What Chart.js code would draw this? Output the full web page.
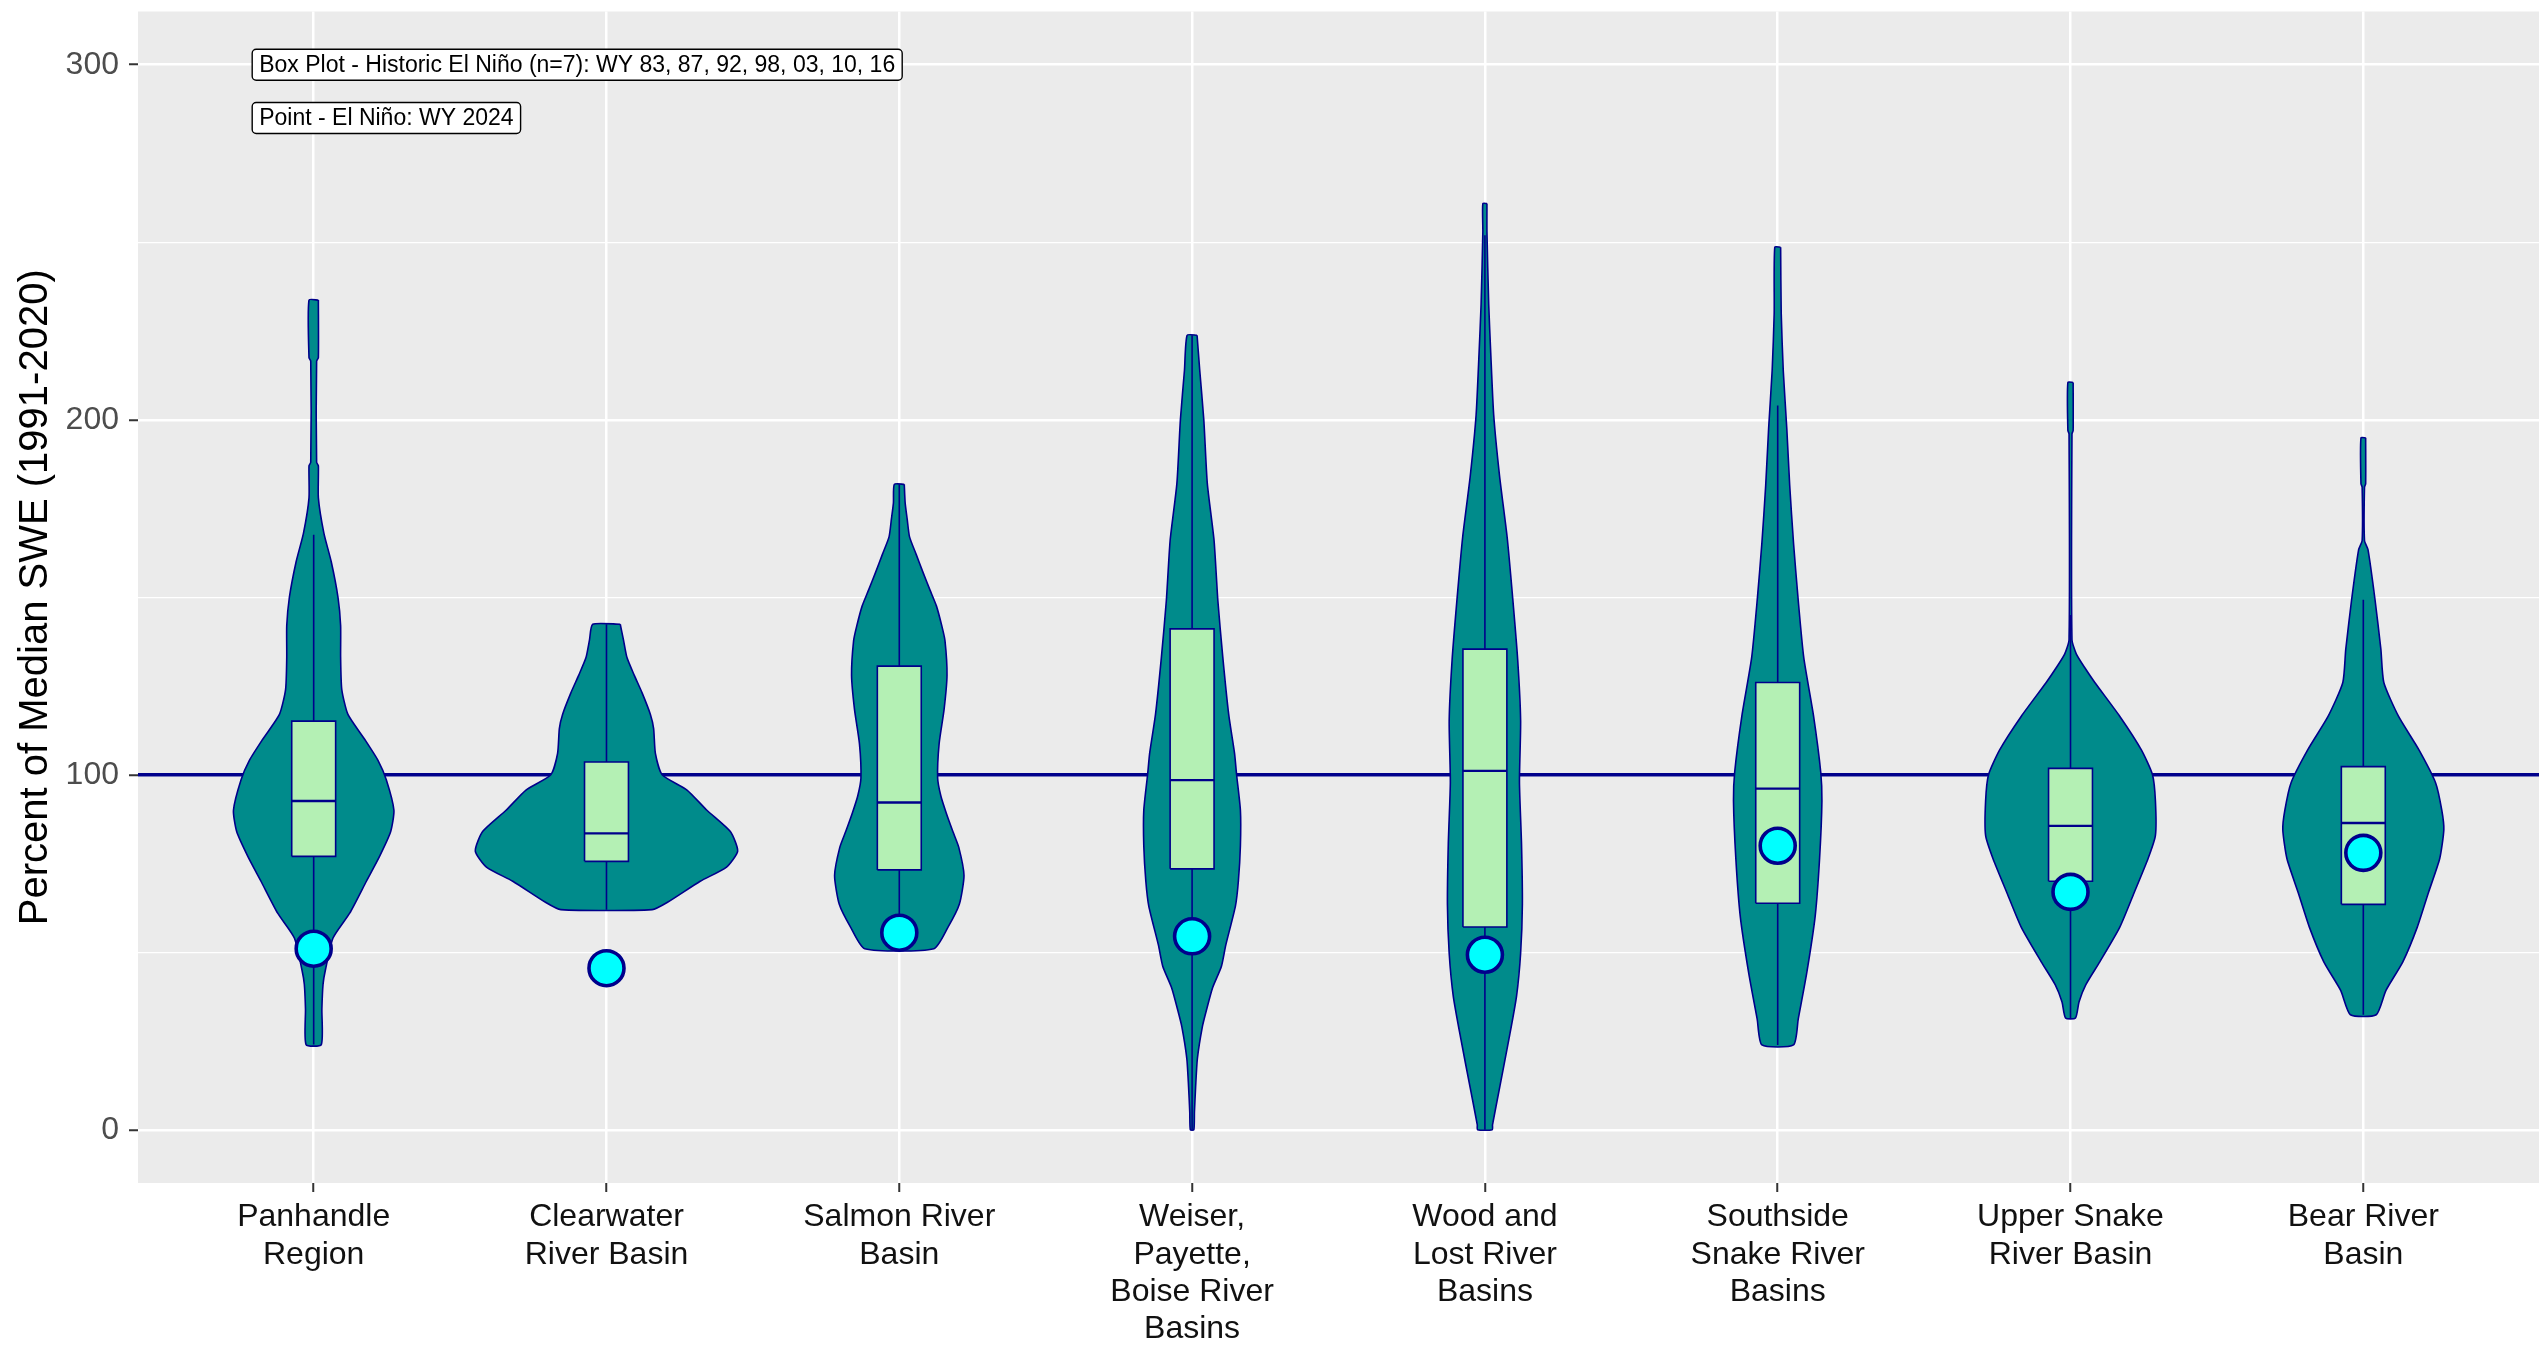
<!DOCTYPE html>
<html>
<head>
<meta charset="utf-8">
<script src="https://cdn.jsdelivr.net/npm/chart.js@4.4.1/dist/chart.umd.min.js"></script>
<style>
html,body{margin:0;padding:0;background:#ffffff;overflow:hidden}
canvas{display:block}
</style>
</head>
<body>
<canvas id="chart" width="2539" height="1345"></canvas>
<script>
// ---------------- DATA ----------------
const categories = [
  ['Panhandle', 'Region'],
  ['Clearwater', 'River Basin'],
  ['Salmon River', 'Basin'],
  ['Weiser,', 'Payette,', 'Boise River', 'Basins'],
  ['Wood and', 'Lost River', 'Basins'],
  ['Southside', 'Snake River', 'Basins'],
  ['Upper Snake', 'River Basin'],
  ['Bear River', 'Basin']
];

// Box plot statistics - Historic El Niño (n=7)
const boxQ1     = [77.0, 75.6, 73.2, 73.5, 57.1, 63.8, 70.0, 63.5];
const boxMedian = [92.6, 83.5, 92.2, 98.5, 101.1, 96.1, 85.6, 86.4];
const boxQ3     = [115.1, 103.6, 130.6, 141.1, 135.4, 126.0, 101.8, 102.3];
const whiskerLow  = [24.0, 62.0, 51.0, 0.0, 0.0, 23.9, 31.5, 32.4];
const whiskerHigh = [167.6, 142.4, 181.8, 223.8, 252.0, 204.0, 145.0, 149.3];

// Points - El Niño WY 2024
const wy2024 = [51.0, 45.5, 55.5, 54.5, 49.3, 80.0, 67.0, 78.0];

// Violin density profiles: [percent of median, half width (category units)]
const violinPanhandle = [[233.7,0.016],[217.5,0.016],[216.5,0.010],[188,0.010],[187,0.016],[178,0.016],[168,0.035],[160,0.06],[150,0.083],[142,0.092],[133,0.092],[124,0.096],[117,0.117],[110,0.174],[104,0.22],[98.6,0.248],[90,0.274],[84,0.263],[77,0.225],[70,0.18],[61,0.123],[54,0.066],[45,0.04],[41,0.032],[34,0.028],[24,0.026]];
const violinClearwater = [[142.4,0.047],[138,0.058],[133,0.07],[128,0.095],[123,0.122],[117,0.15],[113,0.161],[106,0.167],[100,0.19],[95.7,0.275],[90,0.343],[84,0.423],[78.5,0.448],[74,0.41],[70,0.32],[64,0.207],[62,0.156]];
const violinSalmon = [[181.8,0.017],[176.6,0.02],[172,0.027],[167,0.035],[162,0.058],[157,0.081],[152,0.105],[147.5,0.127],[142,0.145],[137.8,0.156],[128,0.163],[118.4,0.153],[108.7,0.136],[99,0.131],[94,0.142],[89.3,0.16],[84,0.183],[79.6,0.203],[71.6,0.221],[63.5,0.205],[57,0.166],[51,0.118]];
const violinWeiser = [[223.8,0.017],[214,0.026],[200,0.04],[182,0.052],[166,0.075],[149,0.088],[133,0.105],[117,0.125],[106,0.145],[100,0.152],[90,0.165],[80,0.165],[70,0.158],[63,0.148],[52,0.115],[46,0.1],[40,0.07],[34,0.05],[29,0.035],[20,0.018],[12,0.012],[5,0.008],[0,0.006]];
const violinWood = [[260.9,0.007],[253,0.007],[232.5,0.013],[218.7,0.02],[201.4,0.03],[184.2,0.05],[166.9,0.076],[149.7,0.095],[132.4,0.112],[115.2,0.122],[97.9,0.118],[80.7,0.125],[63.5,0.128],[49.7,0.122],[37.6,0.108],[25.5,0.082],[11.7,0.05],[1.4,0.026],[0,0.025]];
const violinSouthside = [[248.6,0.01],[230,0.012],[213.8,0.019],[197.6,0.031],[181.5,0.041],[165.3,0.054],[149.2,0.07],[133,0.089],[116.8,0.122],[100.7,0.147],[92.6,0.151],[76.4,0.143],[60.2,0.128],[44.1,0.099],[31.1,0.07],[23.9,0.054]];
const violinUpperSnake = [[210.5,0.009],[197,0.009],[196,0.005],[138,0.005],[134,0.02],[130,0.05],[126,0.083],[116.5,0.168],[107,0.242],[100,0.28],[92.6,0.29],[82.9,0.29],[76.4,0.265],[66.7,0.217],[57,0.168],[47.3,0.1],[40.8,0.052],[36,0.029],[31.5,0.017]];
const violinBear = [[194.9,0.008],[182,0.008],[181,0.004],[166,0.004],[163.4,0.016],[149.3,0.04],[135.3,0.06],[126,0.07],[116.5,0.12],[107,0.19],[97.7,0.247],[90,0.268],[84.5,0.275],[76.4,0.261],[66.7,0.222],[57,0.184],[47.3,0.135],[39.2,0.077],[32.4,0.044]];
const violins = [violinPanhandle, violinClearwater, violinSalmon, violinWeiser, violinWood, violinSouthside, violinUpperSnake, violinBear];

const yMajorTicks = [0, 100, 200, 300];
const yMinorTicks = [50, 150, 250];
const referenceLine = 100;

const annotationTexts = [
  'Box Plot - Historic El Niño (n=7): WY 83, 87, 92, 98, 03, 10, 16',
  'Point - El Niño: WY 2024'
];
const annotationY = [300, 285];

// ---------------- STYLE ----------------
const FONT = '"Liberation Sans", Arial, Helvetica, sans-serif';
const VIOLIN_FILL = '#008B8B';
const DARK_BLUE = '#00008B';
const BOX_FILL = '#B4F0B4';
const POINT_FILL = '#00FFFF';
const BOX_HALF = 0.075;
const ANNOT_X = -0.21;

// ---------------- DATASETS ----------------
const datasets = [];

// reference line at 100
datasets.push({
  data: [{x: -0.6, y: referenceLine}, {x: 7.6, y: referenceLine}],
  showLine: true, borderColor: DARK_BLUE, borderWidth: 3.5, pointRadius: 0, fill: false, order: 6
});

// violins
violins.forEach((prof, i) => {
  const pts = [];
  prof.forEach(([v, w]) => pts.push({x: i + w, y: v}));
  for (let k = prof.length - 1; k >= 0; k--) pts.push({x: i - prof[k][1], y: prof[k][0]});
  pts.push({x: i + prof[0][1], y: prof[0][0]});
  datasets.push({
    data: pts, showLine: true, fill: 'shape', tension: 0.2,
    backgroundColor: VIOLIN_FILL, borderColor: DARK_BLUE, borderWidth: 1.6,
    borderJoinStyle: 'round', pointRadius: 0, order: 5
  });
});

// whiskers
categories.forEach((c, i) => {
  datasets.push({
    data: [{x: i, y: whiskerLow[i]}, {x: i, y: whiskerHigh[i]}],
    showLine: true, fill: false, borderColor: DARK_BLUE, borderWidth: 1.6, pointRadius: 0, order: 4
  });
});

// boxes
categories.forEach((c, i) => {
  datasets.push({
    data: [
      {x: i - BOX_HALF, y: boxQ1[i]}, {x: i + BOX_HALF, y: boxQ1[i]},
      {x: i + BOX_HALF, y: boxQ3[i]}, {x: i - BOX_HALF, y: boxQ3[i]},
      {x: i - BOX_HALF, y: boxQ1[i]}
    ],
    showLine: true, fill: 'shape', tension: 0,
    backgroundColor: BOX_FILL, borderColor: DARK_BLUE, borderWidth: 1.6, pointRadius: 0, order: 3
  });
});

// medians
categories.forEach((c, i) => {
  datasets.push({
    data: [{x: i - BOX_HALF, y: boxMedian[i]}, {x: i + BOX_HALF, y: boxMedian[i]}],
    showLine: true, fill: false, borderColor: DARK_BLUE, borderWidth: 2.4, pointRadius: 0, order: 2
  });
});

// WY 2024 points
datasets.push({
  data: wy2024.map((v, i) => ({x: i, y: v})),
  showLine: false,
  pointRadius: 17.5, pointBorderWidth: 3.6,
  pointBackgroundColor: POINT_FILL, pointBorderColor: DARK_BLUE, order: 1
});

// ---------------- PLUGINS ----------------
const panelBackground = {
  id: 'panelBackground',
  beforeDraw(chart) {
    const {ctx, chartArea: a} = chart;
    ctx.save();
    ctx.fillStyle = '#ffffff';
    ctx.fillRect(0, 0, chart.width, chart.height);
    ctx.fillStyle = '#EBEBEB';
    ctx.fillRect(a.left, a.top, a.right - a.left, a.bottom - a.top);
    ctx.restore();
  }
};

const labelBoxes = {
  id: 'labelBoxes',
  afterDatasetsDraw(chart) {
    const {ctx, scales: {x, y}} = chart;
    ctx.save();
    ctx.font = '23px ' + FONT;
    const pad = 7, h = 31, r = 4;
    annotationTexts.forEach((t, k) => {
      const left = x.getPixelForValue(ANNOT_X);
      const cy = y.getPixelForValue(annotationY[k]);
      const w = ctx.measureText(t).width + 2 * pad;
      const top = cy - h / 2;
      ctx.beginPath();
      ctx.moveTo(left + r, top);
      ctx.lineTo(left + w - r, top);
      ctx.arcTo(left + w, top, left + w, top + r, r);
      ctx.lineTo(left + w, top + h - r);
      ctx.arcTo(left + w, top + h, left + w - r, top + h, r);
      ctx.lineTo(left + r, top + h);
      ctx.arcTo(left, top + h, left, top + h - r, r);
      ctx.lineTo(left, top + r);
      ctx.arcTo(left, top, left + r, top, r);
      ctx.closePath();
      ctx.fillStyle = '#ffffff';
      ctx.fill();
      ctx.lineWidth = 1.4;
      ctx.strokeStyle = '#000000';
      ctx.stroke();
      ctx.fillStyle = '#000000';
      ctx.textBaseline = 'middle';
      ctx.textAlign = 'left';
      ctx.fillText(t, left + pad, cy + 1);
    });
    ctx.restore();
  }
};

// ---------------- CHART ----------------
new Chart(document.getElementById('chart'), {
  type: 'scatter',
  data: {datasets},
  options: {
    responsive: false,
    devicePixelRatio: 1,
    animation: false,
    events: [],
    layout: {autoPadding: false, padding: {top: 11.5, right: 0, left: 0, bottom: 0}},
    plugins: {legend: {display: false}, tooltip: {enabled: false}},
    scales: {
      x: {
        type: 'linear', min: -0.6, max: 7.6,
        afterBuildTicks: (s) => { s.ticks = categories.map((c, i) => ({value: i})); },
        afterFit: (s) => { s.height = 162; s.paddingLeft = 0; s.paddingRight = 0; },
        border: {display: false},
        grid: {color: '#ffffff', lineWidth: 2.5, tickColor: '#333333', tickWidth: 2, tickLength: 9, drawTicks: true},
        ticks: {
          autoSkip: false, maxRotation: 0, minRotation: 0, padding: 7,
          color: '#111111',
          font: {family: FONT, size: 32, lineHeight: 1.16},
          callback: (v) => categories[v]
        }
      },
      y: {
        type: 'linear', min: -15, max: 315,
        afterBuildTicks: (s) => {
          s.ticks = yMajorTicks.concat(yMinorTicks).sort((a, b) => a - b).map(v => ({value: v}));
        },
        afterFit: (s) => { s.width = 138; s.paddingTop = 0; s.paddingBottom = 0; },
        border: {display: false},
        grid: {
          color: '#ffffff',
          lineWidth: (c) => (c.tick && yMajorTicks.includes(c.tick.value)) ? 2.5 : 1.3,
          tickColor: (c) => (c.tick && yMajorTicks.includes(c.tick.value)) ? '#333333' : 'rgba(0,0,0,0)',
          tickWidth: 2, tickLength: 9, drawTicks: true
        },
        ticks: {
          padding: 10, color: '#4D4D4D',
          font: {family: FONT, size: 32},
          callback: (v) => yMajorTicks.includes(v) ? String(v) : ''
        },
        title: {
          display: true,
          text: 'Percent of Median SWE (1991-2020)',
          color: '#000000',
          font: {family: FONT, size: 40},
          padding: {top: 12, bottom: 0}
        }
      }
    }
  },
  plugins: [panelBackground, labelBoxes]
});
</script>
</body>
</html>
